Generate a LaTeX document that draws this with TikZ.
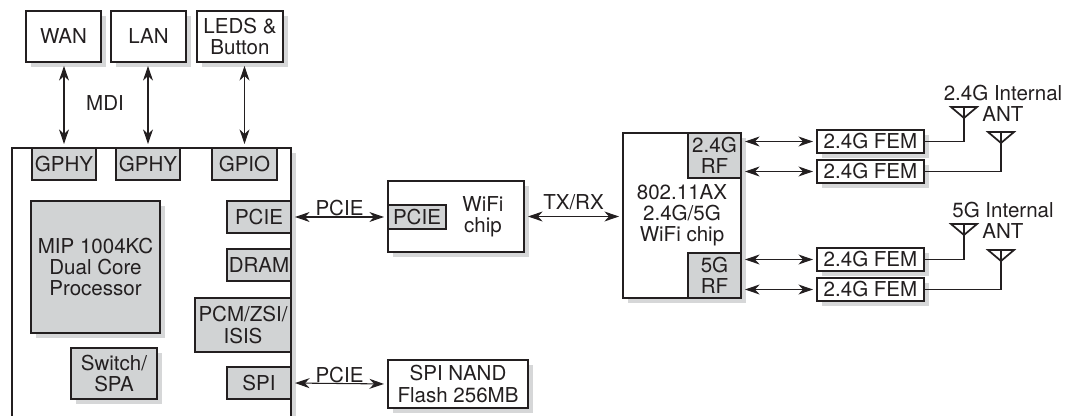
\documentclass[tikz,border=0pt]{standalone}
\usepackage{fontspec}
\setmainfont{TeX Gyre Heros}
\usetikzlibrary{positioning,arrows.meta,shadows}
\definecolor{inkc}{HTML}{231F20}
\definecolor{chipgray}{HTML}{D1D3D4}
\definecolor{shadowgray}{HTML}{D6D7D8}
\tikzset{
  every node/.style={font=\fontsize{15.4}{15.8}\selectfont, text=inkc, align=center},
  box/.style={draw=inkc, line width=1.4pt, fill=white, anchor=north west, inner sep=0pt, outer sep=0pt},
  shadowed/.style={general shadow={fill=shadowgray, shadow xshift=4pt, shadow yshift=-4pt}},
  port/.style={box, fill=chipgray},
  link/.style={{Stealth[length=11pt,width=7.5pt]}-{Stealth[length=11pt,width=7.5pt]}, draw=inkc, line width=0.8pt, shorten <=3pt, shorten >=3pt},
  wire/.style={draw=inkc, line width=1.3pt},
  antenna/.pic={\draw[wire, line join=miter] (-13,0) -- (13,0) -- (0,11) -- cycle; \draw[wire] (0,0) -- (0,11);}
}
\begin{document}
\begin{tikzpicture}[x=0.75pt, y=-0.75pt]
\useasboundingbox (0,0) rectangle (1071,416);
% top row
\node[box, shadowed, minimum width=56.25pt, minimum height=38.25pt] (wan) at (26,11) {WAN};
\node[box, shadowed, minimum width=56.25pt, minimum height=38.25pt, right=7.5pt of wan.north east, anchor=north west] (lan) {LAN};
\node[box, shadowed, minimum width=64.5pt, minimum height=38.25pt, right=8.25pt of lan.north east, anchor=north west] (leds) {LEDS \&\\Button};
% main chip, runs off the bottom
\fill[shadowgray] (291,153) rectangle (296,416);
\draw[wire, line width=1.4pt, fill=white] (12,416) -- (12,148) -- (291,148) -- (291,416);
\node[port, minimum width=48pt, minimum height=24pt] (gphya) at (32,148) {GPHY};
\node[port, minimum width=48pt, minimum height=24pt] (gphyb) at (116,148) {GPHY};
\node[port, minimum width=48.75pt, minimum height=24pt] (gpio) at (212,148) {GPIO};
\node[port, shadowed, minimum width=96.75pt, minimum height=99pt] (mip) at (31,201) {MIP 1004KC\\Dual Core\\Processor};
\node[port, shadowed, minimum width=64.5pt, minimum height=38.25pt] (switch) at (71,348) {Switch/\\SPA};
\node[port, minimum width=48pt, minimum height=24pt] (pcie) at (227,201) {PCIE};
\node[port, minimum width=48pt, minimum height=24pt] (dram) at (227,249) {DRAM};
\node[port, minimum width=72pt, minimum height=40.5pt] (pcm) at (195,298) {PCM/ZSI/\\ISIS};
\node[port, minimum width=48pt, minimum height=24pt] (spi) at (227,367) {SPI};
% wifi chip and flash
\node[box, shadowed, minimum width=102pt, minimum height=53.25pt] (wifi) at (388,181) {};
\node[port, minimum width=43.5pt, minimum height=18pt] (wifipcie) at (388,205) {PCIE};
\node (wifitxt) at (483,217) {WiFi\\chip};
\node[box, shadowed, minimum width=105pt, minimum height=36pt] (flash) at (388,360) {SPI NAND\\Flash 256MB};
% radio chip
\node[box, shadowed, minimum width=88.5pt, minimum height=123.75pt] (radio) at (623,133) {};
\node (radiotxt) at (682,215) {802.11AX\\2.4G/5G\\WiFi chip};
\node[port, minimum width=39.75pt, minimum height=33.75pt] (rfa) at (688,133) {2.4G\\RF};
\node[port, minimum width=39.75pt, minimum height=33.75pt] (rfb) at (688,253) {5G\\RF};
% front end modules
\node[box, shadowed, minimum width=80.25pt, minimum height=17.25pt] (fema) at (817,130) {2.4G FEM};
\node[box, shadowed, minimum width=80.25pt, minimum height=17.25pt] (femb) at (817,160) {2.4G FEM};
\node[box, shadowed, minimum width=80.25pt, minimum height=17.25pt] (femc) at (817,248) {2.4G FEM};
\node[box, shadowed, minimum width=80.25pt, minimum height=17.25pt] (femd) at (817,278) {2.4G FEM};
% antennas
\coordinate (anta) at (964,107);
\coordinate (antb) at (1001,132);
\coordinate (antc) at (964,224);
\coordinate (antd) at (1001,250);
\pic at (anta) {antenna};
\pic at (antb) {antenna};
\pic at (antc) {antenna};
\pic at (antd) {antenna};
\node (labela) at (1003,103) {2.4G Internal\\ANT};
\node (labelb) at (1003,220) {5G Internal\\ANT};
% connectors
\draw[link] (gphya.north |- wan.south) -- (gphya.north);
\draw[link] (gphyb.north |- lan.south) -- (gphyb.north);
\draw[link] (gpio.north |- leds.south) -- (gpio.north);
\node (mdi) at (105,103) {MDI};
\draw[link] (pcie.east) -- (wifipcie.west) node[midway, above=-3pt] (pcielabel) {PCIE};
\draw[link] (wifi.east) -- (radio.west |- wifi.east) node[midway, above=1pt] (txrx) {TX/RX};
\draw[link] (spi.east) -- (flash.west) node[midway, above=-3pt] (spilabel) {PCIE};
\draw[link] (fema.west -| rfa.east) -- (fema.west);
\draw[link] (femb.west -| rfa.east) -- (femb.west);
\draw[link] (femc.west -| rfb.east) -- (femc.west);
\draw[link] (femd.west -| rfb.east) -- (femd.west);
\draw[wire] (fema.east) -| (anta);
\draw[wire] (femb.east) -| (antb);
\draw[wire] (femc.east) -| (antc);
\draw[wire] (femd.east) -| (antd);
\end{tikzpicture}
\end{document}
